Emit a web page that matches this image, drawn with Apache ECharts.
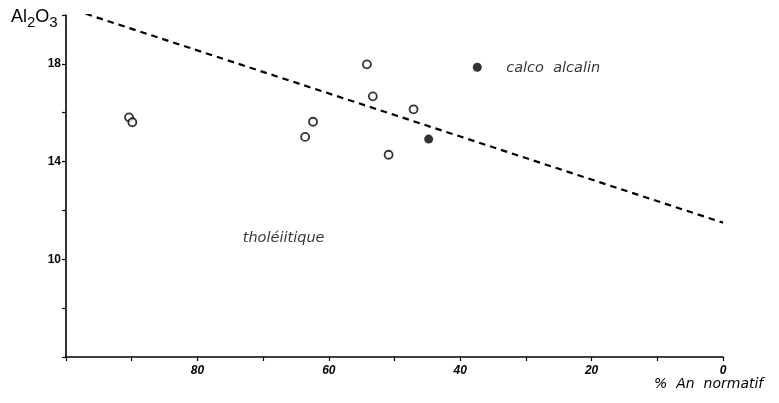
<!DOCTYPE html>
<html>
<head>
<meta charset="utf-8">
<script src="https://cdn.jsdelivr.net/npm/echarts@6/dist/echarts.min.js"></script>
<style>
  html, body { margin: 0; padding: 0; background: #fff; }
  #chart { width: 779px; height: 403px; }
</style>
</head>
<body>
<div id="chart"></div>
<script>
// % normative anorthite (x) vs Al2O3 wt% (y)
const openAn = [54.2, 53.3, 47.1, 62.4, 63.6, 50.9, 90.4, 89.9];
const openAl = [17.98, 16.67, 16.14, 15.63, 15.01, 14.28, 15.81, 15.61];
const filledAn = [44.8, 37.4];
const filledAl = [14.92, 17.86];

// tholeiitic / calc-alkaline dividing line
const boundaryAn = [97, 0];
const boundaryAl = [20.05, 11.5];

// field names
const fieldNames = ['calco  alcalin', 'tholéiitique'];
const fieldAn = [33.0, 73.1];
const fieldAl = [17.83, 10.87];

// labelled ticks
const xTickLabels = [80, 60, 40, 20, 0];
const yTickLabels = [10, 14, 18];

const zip = (a, b) => a.map((v, i) => [v, b[i]]);

const chart = echarts.init(document.getElementById('chart'), null, { renderer: 'canvas' });

const INK = '#000';
const SANS = 'Liberation Sans, Arial, sans-serif';
const WIDE = 'DejaVu Sans, Verdana, sans-serif';

const axisFont = { color: INK, fontFamily: SANS, fontWeight: 'bold', fontSize: 12 };

chart.setOption({
  backgroundColor: '#ffffff',
  animation: false,
  grid: { left: 66, right: 56, top: 15, bottom: 46, containLabel: false },
  xAxis: {
    type: 'value', inverse: true, min: 0, max: 100, interval: 10,
    splitLine: { show: false },
    axisLine: { onZero: false, lineStyle: { color: INK, width: 1.6 } },
    axisTick: { show: true, length: 4, lineStyle: { color: INK, width: 1.2 } },
    axisLabel: Object.assign({
      margin: 8, fontStyle: 'italic',
      formatter: v => (xTickLabels.indexOf(v) >= 0 ? String(v) : '')
    }, axisFont)
  },
  yAxis: {
    type: 'value', min: 6, max: 20, interval: 2,
    splitLine: { show: false },
    axisLine: { onZero: false, lineStyle: { color: INK, width: 1.6 } },
    axisTick: { show: true, length: 4, lineStyle: { color: INK, width: 1.2 } },
    axisLabel: Object.assign({
      margin: 5,
      formatter: v => (yTickLabels.indexOf(v) >= 0 ? String(v) : '')
    }, axisFont)
  },
  graphic: [
    {
      type: 'text', left: 11, top: 8,
      style: {
        text: '{b|Al}{s|2}{b|O}{s|3}',
        rich: {
          b: { fontSize: 18, fontFamily: SANS, fill: INK, verticalAlign: 'top' },
          s: { fontSize: 15, fontFamily: SANS, fill: INK, padding: [7, 0, 0, 0] }
        }
      }
    },
    {
      type: 'text', left: 654, top: 377,
      style: {
        text: '%  An  normatif',
        fontSize: 14, fontStyle: 'italic',
        fontFamily: WIDE, fill: INK
      }
    }
  ],
  series: [
    {
      type: 'line', data: zip(boundaryAn, boundaryAl),
      symbol: 'none', silent: true,
      lineStyle: { color: INK, width: 2.2, type: [6.5, 5] }
    },
    {
      type: 'scatter', data: zip(openAn, openAl),
      symbol: 'circle', symbolSize: 8,
      itemStyle: { color: '#fff', borderColor: INK, borderWidth: 1.8 }
    },
    {
      type: 'scatter', data: zip(filledAn, filledAl),
      symbol: 'circle', symbolSize: 9,
      itemStyle: { color: INK }
    },
    {
      type: 'scatter', symbolSize: 0, silent: true,
      data: fieldNames.map((n, i) => ({ name: n, value: [fieldAn[i], fieldAl[i]] })),
      label: {
        show: true, position: 'right', distance: 0,
        formatter: p => p.name,
        fontSize: 14.5, fontStyle: 'italic',
        fontFamily: WIDE, color: INK
      }
    }
  ]
});
</script>
</body>
</html>
